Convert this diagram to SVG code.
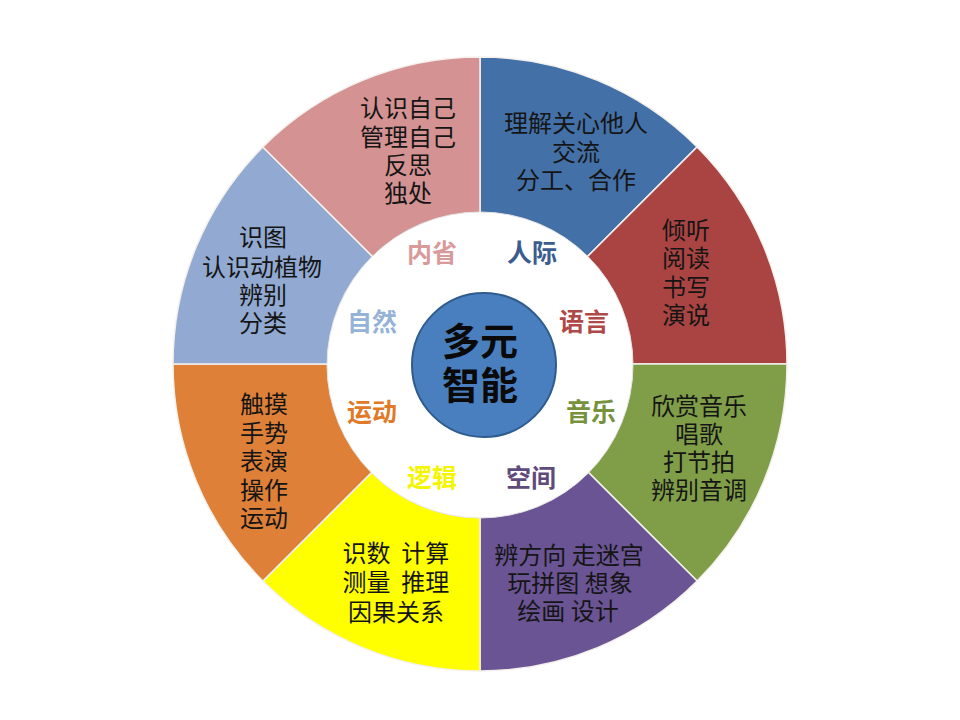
<svg xmlns="http://www.w3.org/2000/svg" width="960" height="720" viewBox="0 0 960 720">
<style>
.sec{stroke:#F4F0EC;stroke-width:1.5}
.t{font-family:"Noto Sans CJK SC","Noto Sans",sans-serif;font-size:24px;fill:#151515;text-anchor:middle}
.lab{font-family:"Noto Sans CJK SC","Noto Sans",sans-serif;font-size:25px;font-weight:bold;text-anchor:middle}
.ctr{font-family:"Noto Sans CJK SC","Noto Sans",sans-serif;font-size:38px;font-weight:bold;fill:#0a0a0a;text-anchor:middle}
</style>
<rect width="960" height="720" fill="#FFFFFF"/>
<g id="sectors">
<g id="renji"><path class="sec" fill="#4470A8" d="M480,364 L480,57 A307,307 0 0 1 697.08,146.92 Z"/>
<text class="t" x="576" y="132">理解关心他人</text><text class="t" x="576" y="161">交流</text><text class="t" x="576" y="189">分工、合作</text></g>
<g id="yuyan"><path class="sec" fill="#AA4442" d="M480,364 L697.08,146.92 A307,307 0 0 1 787,364 Z"/>
<text class="t" x="686" y="239">倾听</text><text class="t" x="686" y="267">阅读</text><text class="t" x="686" y="296">书写</text><text class="t" x="686" y="324">演说</text></g>
<g id="yinyue"><path class="sec" fill="#809E48" d="M480,364 L787,364 A307,307 0 0 1 697.08,581.08 Z"/>
<text class="t" x="699" y="415">欣赏音乐</text><text class="t" x="699" y="443">唱歌</text><text class="t" x="699" y="471">打节拍</text><text class="t" x="699" y="499">辨别音调</text></g>
<g id="kongjian"><path class="sec" fill="#6A5494" d="M480,364 L697.08,581.08 A307,307 0 0 1 480,671 Z"/>
<text class="t" x="569" y="564">辨方向 走迷宫</text><text class="t" x="570" y="592">玩拼图 想象</text><text class="t" x="568" y="620">绘画 设计</text></g>
<g id="luoji"><path class="sec" fill="#FFFF00" d="M480,364 L480,671 A307,307 0 0 1 262.92,581.08 Z"/>
<text class="t" x="396" y="562" xml:space="preserve">识数  计算</text><text class="t" x="396" y="591" xml:space="preserve">测量  推理</text><text class="t" x="396" y="621">因果关系</text></g>
<g id="yundong"><path class="sec" fill="#DE8038" d="M480,364 L262.92,581.08 A307,307 0 0 1 173,364 Z"/>
<text class="t" x="264" y="413">触摸</text><text class="t" x="264" y="442">手势</text><text class="t" x="264" y="470">表演</text><text class="t" x="264" y="499">操作</text><text class="t" x="264" y="527">运动</text></g>
<g id="ziran"><path class="sec" fill="#92AAD2" d="M480,364 L173,364 A307,307 0 0 1 262.92,146.92 Z"/>
<text class="t" x="263" y="246">识图</text><text class="t" x="262" y="276">认识动植物</text><text class="t" x="263" y="304">辨别</text><text class="t" x="263" y="332">分类</text></g>
<g id="neixing"><path class="sec" fill="#D49292" d="M480,364 L262.92,146.92 A307,307 0 0 1 480,57 Z"/>
<text class="t" x="408" y="117">认识自己</text><text class="t" x="408" y="146">管理自己</text><text class="t" x="408" y="174">反思</text><text class="t" x="408" y="202">独处</text></g>
</g>
<g id="inner">
<circle cx="480" cy="365" r="153" fill="#FFFFFF" stroke="#E6E6E6" stroke-width="1"/>
<text class="lab" x="432" y="262" fill="#D99A9A">内省</text>
<text class="lab" x="532" y="262" fill="#3A5C8E">人际</text>
<text class="lab" x="584" y="331" fill="#B04848">语言</text>
<text class="lab" x="591" y="421" fill="#76923C">音乐</text>
<text class="lab" x="531" y="487" fill="#5F4A7C">空间</text>
<text class="lab" x="432" y="487" fill="#F5F500">逻辑</text>
<text class="lab" x="372" y="421" fill="#E07A28">运动</text>
<text class="lab" x="372" y="331" fill="#95B3D7">自然</text>
</g>
<g id="center">
<circle cx="484" cy="365" r="72" fill="#4A7FBF" stroke="#2E5C8E" stroke-width="2"/>
<text class="ctr" x="480" y="355">多元</text>
<text class="ctr" x="480" y="399">智能</text>
</g>
</svg>
